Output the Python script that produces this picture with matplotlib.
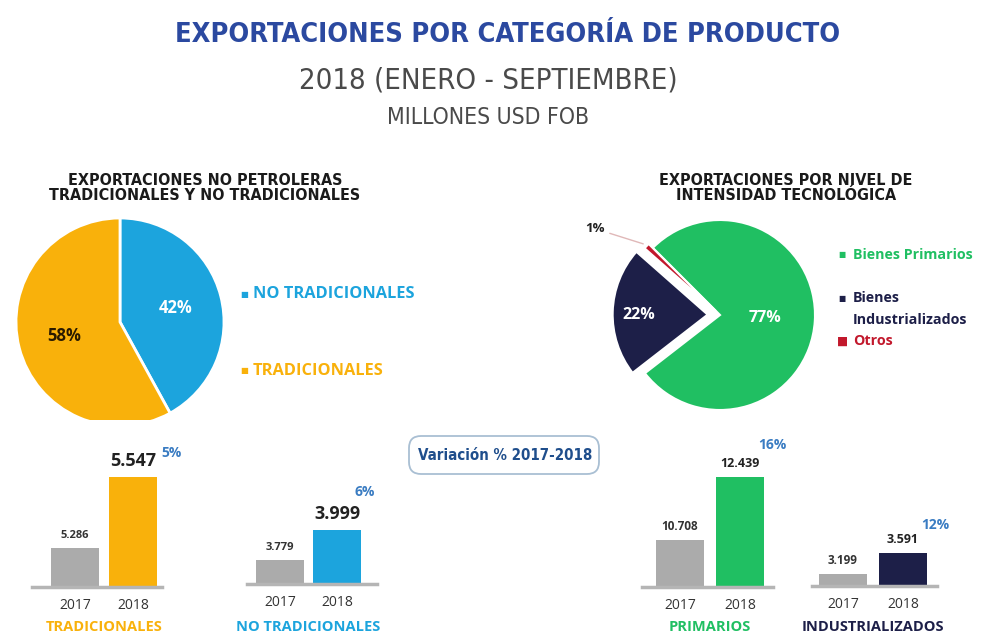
import matplotlib
matplotlib.use("Agg")
import matplotlib.pyplot as plt
from matplotlib import font_manager as fm
from matplotlib.patches import FancyBboxPatch

# ---- datos ----
pie1_labels = ["NO TRADICIONALES", "TRADICIONALES"]
pie1_values = [42, 58]
pie2_labels = ["Bienes Primarios", "Bienes Industrializados", "Otros"]
pie2_values = [77, 22, 1]

years = ["2017", "2018"]
groups = ["TRADICIONALES", "NO TRADICIONALES", "PRIMARIOS", "INDUSTRIALIZADOS"]
values_2017 = [5286, 3779, 10708, 3199]
values_2018 = [5547, 3999, 12439, 3591]
variation = ["5%", "6%", "16%", "12%"]

YELLOW = "#f9b10b"
BLUE = "#1ca4dd"
GREEN = "#20bf62"
NAVY = "#1d1f48"
RED = "#c2182c"
GRAY = "#ababab"
PCTBLUE = "#3a7cc2"
TITLEBLUE = "#2b49a0"

names = {f.name for f in fm.fontManager.ttflist}
BODY = "Open Sans" if "Open Sans" in names else "DejaVu Sans"


# buscar una fuente estrecha (condensed / narrow) si existe
def narrow_font(bold):
    best = None
    for f in fm.fontManager.ttflist:
        st = str(f.stretch).lower()
        narrow = ("condensed" in st or "narrow" in f.name.lower()
                  or "condensed" in f.name.lower() or "condensed" in f.fname.lower()
                  or "narrow" in f.fname.lower())
        if not narrow or f.style != "normal":
            continue
        w = f.weight if isinstance(f.weight, int) else (700 if "bold" in str(f.weight) else 400)
        if (w >= 600) != bold:
            continue
        best = f.fname
        if "DejaVu" in f.fname or "Liberation" in f.fname:
            break
    return best


NB = narrow_font(True)
NR = narrow_font(False)


def nfont(bold, size):
    fn = NB if bold else NR
    if fn:
        return fm.FontProperties(fname=fn, size=size)
    return fm.FontProperties(family="DejaVu Sans", weight="bold" if bold else "normal",
                             size=size * 0.85)


W, H = 987, 634
fig = plt.figure(figsize=(W / 100, H / 100), dpi=100)


def px(l, t, w, h):
    return [l / W, 1 - (t + h) / H, w / W, h / H]


# capa de texto en coordenadas de pixel
ov = fig.add_axes([0, 0, 1, 1])
ov.set_xlim(0, W)
ov.set_ylim(H, 0)
ov.axis("off")

ov.text(508, 35, "EXPORTACIONES POR CATEGORÍA DE PRODUCTO", fontproperties=nfont(True, 19.5),
        color=TITLEBLUE, ha="center", va="center")
ov.text(488, 80, "2018 (ENERO - SEPTIEMBRE)", fontproperties=nfont(False, 21), color="#4a4a4a",
        ha="center", va="center")
ov.text(488, 117, "MILLONES USD FOB", fontproperties=nfont(False, 16.5), color="#4a4a4a",
        ha="center", va="center")

ov.text(205, 188, "EXPORTACIONES NO PETROLERAS\nTRADICIONALES Y NO TRADICIONALES",
        fontproperties=nfont(True, 11.5), color="#1a1a1a", ha="center", va="center",
        linespacing=0.95)
ov.text(786, 188, "EXPORTACIONES POR NIVEL DE\nINTENSIDAD TECNOLÓGICA",
        fontproperties=nfont(True, 11.5), color="#1a1a1a", ha="center", va="center",
        linespacing=0.95)

# ---- pastel izquierdo ----
r1 = 104
a1 = fig.add_axes(px(120 - r1, 322 - r1, 2 * r1, 2 * r1))
w1, t1, at1 = a1.pie(pie1_values, colors=[BLUE, YELLOW], startangle=90, counterclock=False,
                     autopct="%1.0f%%", pctdistance=0.55, labels=None,
                     wedgeprops=dict(edgecolor="white", linewidth=2))
a1.set_xlim(-1, 1)
a1.set_ylim(-1, 1)
for w in w1:
    w.set_clip_on(False)
at1[0].set_color("white")
at1[1].set_color("#2a1a00")
for t in at1:
    t.set_fontfamily(BODY)
    t.set_fontweight("bold")
    t.set_fontsize(12)

ov.text(240, 294, "■", color=BLUE, size=6, va="center")
ov.text(253, 294, pie1_labels[0], color=BLUE, size=11.8, family=BODY, weight="bold", va="center")
ov.text(240, 371, "■", color=YELLOW, size=6, va="center")
ov.text(253, 371, pie1_labels[1], color=YELLOW, size=11.8, family=BODY, weight="bold", va="center")

# ---- pastel derecho ----
r2 = 95
a2 = fig.add_axes(px(720 - r2, 315 - r2, 2 * r2, 2 * r2))
w2, t2, at2 = a2.pie(pie2_values, colors=[GREEN, NAVY, RED], startangle=135, counterclock=False,
                     explode=[0, 0.13, 0.06], autopct="%1.0f%%", pctdistance=0.47,
                     wedgeprops=dict(edgecolor="white", linewidth=1.5))
a2.set_xlim(-1, 1)
a2.set_ylim(-1, 1)
for w in w2:
    w.set_clip_on(False)
for t in at2:
    t.set_fontfamily(BODY)
    t.set_fontweight("bold")
    t.set_fontsize(11.5)
    t.set_color("white")
at2[1].set_position((-0.86, 0.0))
at2[2].set_visible(False)
a2.annotate("1%", xy=(-0.78, 0.74), xytext=(-1.32, 0.91), ha="center", va="center",
            family=BODY, weight="bold", size=9.5, color="#222222", annotation_clip=False,
            arrowprops=dict(arrowstyle="-", color="#e0b8b8", lw=1))

ov.text(838, 255, "■", color=GREEN, size=5.5, va="center")
ov.text(853, 255, pie2_labels[0], color=GREEN, size=10.3, family=BODY, weight="bold", va="center")
ov.text(838, 298, "■", color=NAVY, size=5.5, va="center")
ov.text(853, 298, "Bienes", color=NAVY, size=10.3, family=BODY, weight="bold", va="center")
ov.text(853, 320, "Industrializados", color=NAVY, size=10.3, family=BODY, weight="bold",
        va="center")
ov.text(837, 341, "■", color=RED, size=8.5, va="center")
ov.text(853, 341, pie2_labels[2], color=RED, size=10.3, family=BODY, weight="bold", va="center")

# ---- recuadro variacion ----
ov.add_patch(FancyBboxPatch((409, 436), 190, 38, boxstyle="round,pad=0,rounding_size=12",
                            facecolor="white", edgecolor="#a9bfd3", lw=1.3))
ov.text(505, 455, "Variación % 2017-2018", fontproperties=nfont(True, 10.8),
        color="#1f4e8c", ha="center", va="center")

# ---- barras ----
# (izq, der, base, centro2017, centro2018, alto2017, alto2018, dx%, dy%) en pixeles / puntos
layout = [
    (32, 162, 587, 75, 133, 39, 110, 28, 12),
    (247, 377, 584, 280, 337, 24, 54, 20, 22),
    (642, 773, 587, 680, 740, 47, 110, 23, 18),
    (812, 937, 586, 843, 903, 12, 33, 23, 15),
]
bar_colors = [YELLOW, BLUE, GREEN, NAVY]
label_colors = [YELLOW, BLUE, GREEN, NAVY]
big18 = [13, 13, 9, 9]
small17 = [8, 8, 8.5, 8.5]
top = 420


def fmt(v):
    return f"{v:,}".replace(",", ".")


for i, (l, r, base, c0, c1, h0, h1, dx, dy) in enumerate(layout):
    v0, v1 = values_2017[i], values_2018[i]
    lo = (v0 * h1 - v1 * h0) / (h1 - h0)
    per = (v1 - lo) / h1
    unit = c1 - c0
    ax = fig.add_axes(px(l, top, r - l, base - top))
    ax.set_xlim((l - c0) / unit, 1 + (r - c1) / unit)
    ax.set_ylim(lo, lo + (base - top) * per)
    ax.bar([0, 1], [v0, v1], width=48 / unit, color=[GRAY, bar_colors[i]])
    ax.axhline(lo, color="#b5b5b5", lw=2.5, clip_on=False)
    for s in ax.spines.values():
        s.set_visible(False)
    ax.set_yticks([])
    ax.set_xticks([0, 1], years)
    ax.tick_params(axis="x", length=0, pad=8, labelsize=10, labelcolor="#333333")
    for t in ax.get_xticklabels():
        t.set_fontfamily(BODY)
    ax.annotate(fmt(v0), (0, v0), xytext=(0, 5), textcoords="offset points", ha="center",
                va="bottom", size=small17[i], weight="bold", family=BODY, color="#333333")
    ax.annotate(fmt(v1), (1, v1), xytext=(0, 5), textcoords="offset points", ha="center",
                va="bottom", size=big18[i], weight="bold", family=BODY, color="#222222")
    ax.annotate(variation[i], (1, v1), xytext=(dx, dy), textcoords="offset points",
                ha="center", va="bottom", size=10, weight="bold", family=BODY, color=PCTBLUE,
                annotation_clip=False)
    ov.text((c0 + c1) / 2, 627, groups[i], ha="center", va="center", size=10.5, weight="bold",
            family=BODY, color=label_colors[i])

fig.savefig("out.png", dpi=100)
